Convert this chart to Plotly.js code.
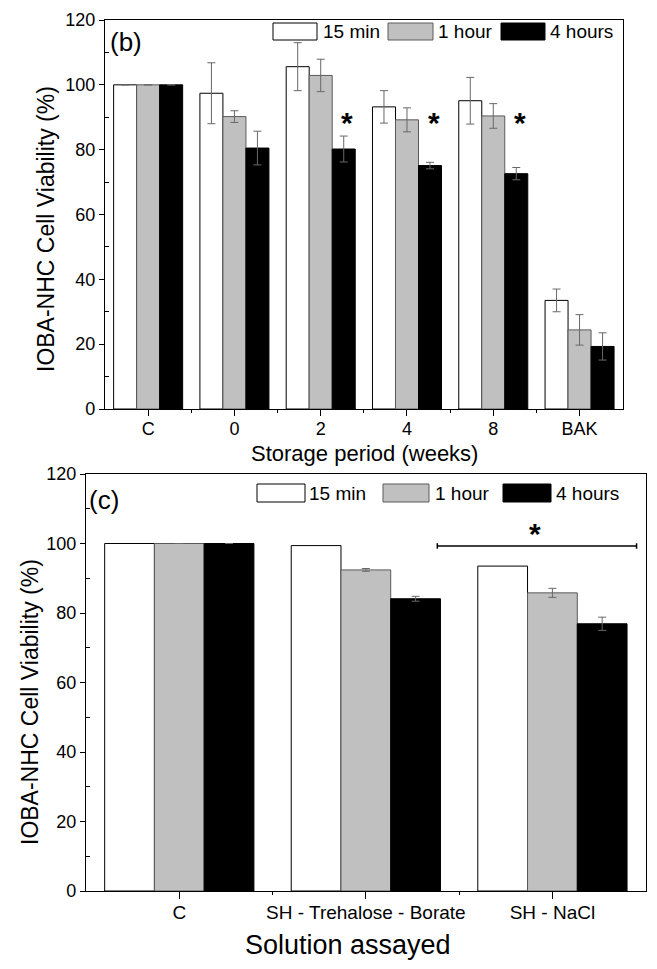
<!DOCTYPE html>
<html>
<head>
<meta charset="utf-8">
<script src="https://cdn.plot.ly/plotly-3.0.1.min.js"></script>
<style>
  html, body { margin: 0; padding: 0; background: #fff; }
  #vis { width: 657px; height: 969px; }
</style>
</head>
<body>
<div id="vis"></div>
<script>
// panel (b): storage period
const weeks = ['C', '0', '2', '4', '8', 'BAK']
const min15 = [100, 97.4, 105.6, 93.2, 95.1, 33.5]
const min15Err = [null, 9.4, 7.4, 5.0, 7.2, 3.5]
const hour1 = [100, 90.2, 102.9, 89.2, 90.4, 24.4]
const hour1Err = [null, 1.8, 5.0, 3.7, 3.8, 4.7]
const hour4 = [100, 80.5, 80.2, 75.1, 72.6, 19.3]
const hour4Err = [null, 5.2, 4.0, 1.0, 1.9, 4.2]
const starWeeks = ['2', '4', '8']

// panel (c): solution assayed
const solutions = ['C', 'SH - Trehalose - Borate', 'SH - NaCl']
const solMin15 = [100, 99.4, 93.5]
const solHour1 = [100, 92.4, 85.8]
const solHour1Err = [null, 0.4, 1.3]
const solHour4 = [100, 84.1, 76.9]
const solHour4Err = [null, 0.7, 1.9]

const seriesNames = ['15 min', '1 hour', '4 hours']
const fills = ['#ffffff', '#c0c0c0', '#000000']
const edges = ['#000000', '#5a5a5a', '#000000']

const W = 657
const H = 969
const FONT = 'Liberation Sans, Arial, Helvetica, sans-serif'
const px = (x) => x / W
const py = (y) => 1 - y / H

function barTrace (idx, x, y, err, xa, ya) {
  const t = {
    type: 'bar',
    name: seriesNames[idx],
    x: x,
    y: y,
    xaxis: xa,
    yaxis: ya,
    offsetgroup: String(idx),
    showlegend: false,
    marker: { color: fills[idx], line: { color: edges[idx], width: 1 } }
  }
  if (err) {
    t.error_y = { type: 'data', array: err, visible: true, color: '#686868', thickness: 1, width: 4 }
  }
  return t
}

const weekIdx = weeks.map((_, i) => i)
const solIdx = solutions.map((_, i) => i)

const traces = [
  barTrace(0, weekIdx, min15, min15Err, 'x', 'y'),
  barTrace(1, weekIdx, hour1, hour1Err, 'x', 'y'),
  barTrace(2, weekIdx, hour4, hour4Err, 'x', 'y'),
  barTrace(0, solIdx, solMin15, null, 'x2', 'y2'),
  barTrace(1, solIdx, solHour1, solHour1Err, 'x2', 'y2'),
  barTrace(2, solIdx, solHour4, solHour4Err, 'x2', 'y2')
]

const tickFont = { family: FONT, size: 18, color: '#000' }

function catAxis (domain, cats, anchor, tickSize, ticklen, standoff) {
  return {
    domain: domain,
    anchor: anchor,
    type: 'linear',
    range: [-0.5, cats.length - 0.5],
    tickmode: 'array',
    tickvals: cats.map((_, i) => i),
    ticktext: cats,
    ticks: 'outside',
    ticklen: ticklen,
    tickwidth: 1.2,
    tickcolor: '#000',
    ticklabelstandoff: standoff,
    minor: {
      tickmode: 'array',
      tickvals: cats.slice(1).map((_, i) => i + 0.5),
      ticks: 'outside',
      ticklen: 3,
      tickwidth: 1.2,
      tickcolor: '#000'
    },
    showline: true,
    linecolor: '#000',
    linewidth: 1.2,
    mirror: true,
    showgrid: false,
    zeroline: false,
    tickfont: { family: FONT, size: tickSize, color: '#000' }
  }
}

function valAxis (domain, anchor) {
  return {
    domain: domain,
    anchor: anchor,
    range: [0, 120],
    tickvals: [0, 20, 40, 60, 80, 100, 120],
    ticks: 'outside',
    ticklen: 5,
    tickwidth: 1.2,
    tickcolor: '#000',
    minor: {
      tickvals: [10, 30, 50, 70, 90, 110],
      ticks: 'inside',
      ticklen: 4,
      tickwidth: 1.2,
      tickcolor: '#000'
    },
    showline: true,
    linecolor: '#000',
    linewidth: 1.2,
    mirror: true,
    showgrid: false,
    zeroline: false,
    tickfont: tickFont
  }
}

// overlay axes only for the inward ticks along the top frame
function topTicks (overlay, anchor, domain, n) {
  return {
    overlaying: overlay,
    anchor: anchor,
    domain: domain,
    side: 'top',
    range: [-0.5, n - 0.5],
    tickmode: 'linear',
    tick0: 0,
    dtick: 0.5,
    ticks: 'inside',
    ticklen: 5,
    tickwidth: 1.2,
    tickcolor: '#000',
    showticklabels: false,
    showline: false,
    showgrid: false,
    zeroline: false
  }
}

const topX = [px(105), px(622.7)]
const topY = [py(409), py(20)]
const botX = [px(86), px(645.7)]
const botY = [py(891), py(474)]

const annotations = []
const shapes = []

// axis titles, placed where the original has them
function title (text, x, y, size, angle) {
  annotations.push({
    xref: 'paper', yref: 'paper', x: px(x), y: py(y), xanchor: 'center', yanchor: 'middle',
    showarrow: false, text: text, textangle: angle, font: { family: FONT, size: size, color: '#000' }
  })
}
title('IOBA-NHC Cell Viability (%)', 46, 229, 23, -90)
title('Storage period (weeks)', 364, 453, 22, 0)
title('IOBA-NHC Cell Viability (%)', 30, 702, 23, -90)
title('Solution assayed', 348, 945, 27, 0)

// custom legends (wide swatches like the original)
function legend (items) {
  items.forEach((it, i) => {
    shapes.push({
      type: 'rect', xref: 'paper', yref: 'paper',
      x0: px(it.x0), x1: px(it.x1), y0: py(it.y1), y1: py(it.y0),
      fillcolor: fills[i], line: { color: i === 1 ? '#5a5a5a' : '#000', width: 1 }
    })
    annotations.push({
      xref: 'paper', yref: 'paper', x: px(it.tx), y: py((it.y0 + it.y1) / 2),
      xanchor: 'left', yanchor: 'middle', showarrow: false,
      text: seriesNames[i], font: { family: FONT, size: 19, color: '#000' }
    })
  })
}
legend([
  { x0: 273, x1: 317, y0: 23, y1: 40, tx: 321 },
  { x0: 388, x1: 433, y0: 23, y1: 40, tx: 436 },
  { x0: 501, x1: 545, y0: 23, y1: 40, tx: 548 }
])
legend([
  { x0: 257, x1: 305, y0: 484, y1: 502, tx: 307 },
  { x0: 383, x1: 429, y0: 484, y1: 502, tx: 433 },
  { x0: 503, x1: 551, y0: 484, y1: 502, tx: 554 }
])

// panel letters
annotations.push({
  xref: 'paper', yref: 'paper', x: px(108), y: py(42), xanchor: 'left', yanchor: 'middle',
  showarrow: false, text: '(b)', font: { family: FONT, size: 26, color: '#000' }
})
annotations.push({
  xref: 'paper', yref: 'paper', x: px(87), y: py(500), xanchor: 'left', yanchor: 'middle',
  showarrow: false, text: '(c)', font: { family: FONT, size: 26, color: '#000' }
})

// significance stars next to the 4 hour bars
const starLevel = 88.5
starWeeks.forEach((w) => {
  const i = weeks.indexOf(w)
  annotations.push({
    xref: 'x', yref: 'y', x: i + 0.31, y: starLevel, xanchor: 'center', yanchor: 'middle',
    showarrow: false, text: '<b>*</b>', font: { family: FONT, size: 30, color: '#000' }
  })
})

// bracket over SH solutions
const brY = 99.3
shapes.push({ type: 'line', xref: 'x2', yref: 'y2', x0: 1.383, x1: 2.451, y0: brY, y1: brY, line: { color: '#000', width: 1.5 } })
shapes.push({ type: 'line', xref: 'x2', yref: 'y2', x0: 1.383, x1: 1.383, y0: brY - 0.8, y1: brY + 0.8, line: { color: '#000', width: 1.5 } })
shapes.push({ type: 'line', xref: 'x2', yref: 'y2', x0: 2.451, x1: 2.451, y0: brY - 0.8, y1: brY + 0.8, line: { color: '#000', width: 1.5 } })
annotations.push({
  xref: 'x2', yref: 'y2', x: 1.906, y: 102.9, xanchor: 'center', yanchor: 'middle',
  showarrow: false, text: '<b>*</b>', font: { family: FONT, size: 30, color: '#000' }
})

const layout = {
  width: W,
  height: H,
  margin: { l: 0, r: 0, t: 0, b: 0 },
  paper_bgcolor: '#fff',
  plot_bgcolor: '#fff',
  barmode: 'group',
  bargap: 0.2,
  bargroupgap: 0,
  showlegend: false,
  font: { family: FONT, color: '#000' },
  xaxis: catAxis(topX, weeks, 'y', 18, 6, -3),
  yaxis: valAxis(topY, 'x'),
  xaxis2: catAxis(botX, solutions, 'y2', 19, 7, -3),
  yaxis2: valAxis(botY, 'x2'),
  xaxis3: topTicks('x', 'y', topX, weeks.length),
  xaxis4: topTicks('x2', 'y2', botX, solutions.length),
  shapes: shapes,
  annotations: annotations
}

Plotly.newPlot('vis', traces, layout, { displayModeBar: false, responsive: false })
</script>
</body>
</html>
